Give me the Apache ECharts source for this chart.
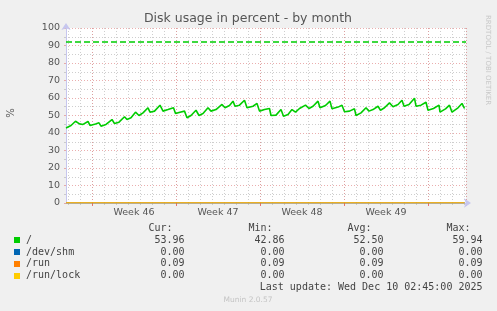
<!DOCTYPE html>
<html><head><meta charset="utf-8">
<script src="https://cdn.jsdelivr.net/npm/echarts@6/dist/echarts.min.js"></script>
<style>html,body{margin:0;padding:0;background:#f0f0f0;}#c{width:497px;height:311px;}</style>
</head><body><div id="c"></div>
<script>
// ---- data ----
const title = 'Disk usage in percent - by month';
const yUnit = '%';
const weekLabels = ['Week 46', 'Week 47', 'Week 48', 'Week 49'];
// hours since left edge of plot (2 hours per pixel, 800 hours shown)
const rootHours = [0,10,19,27,34,44,48,59,66,70,80,92,97,106,117,122,130,139,146,154,164,168,177,188,194,204,215,219,228,237,242,250,260,266,274,284,290,300,312,318,327,334,338,347,357,362,374,382,387,397,407,410,420,430,435,444,452,459,467,479,486,494,504,508,519,528,532,544,552,557,567,577,580,590,600,606,614,624,629,637,647,654,664,672,676,686,697,700,710,720,724,735,746,748,759,767,772,784,792,797];
const rootValues = [42.9,44.3,46.7,45.2,44.9,46.6,44.3,45.2,45.8,43.9,44.9,47.7,45.4,46.2,49.3,47.7,48.7,51.9,50.0,51.5,54.4,51.9,52.5,55.9,52.5,53.4,54.4,51.1,51.9,52.5,48.7,50.0,53.0,50.0,51.1,54.4,52.5,53.4,56.3,54.4,55.7,58.2,55.3,55.9,58.7,54.4,55.3,56.9,52.5,53.4,54.0,50.0,50.2,53.4,49.6,50.6,53.4,51.9,54.0,55.9,54.0,55.3,58.2,54.4,55.7,58.2,53.8,54.8,55.9,52.1,52.5,53.8,50.0,51.5,54.4,52.5,53.4,55.3,53.0,54.4,57.2,55.0,56.3,58.7,55.3,56.3,59.9,55.3,55.9,57.6,53.0,54.0,55.9,51.9,53.8,55.9,51.9,54.4,56.9,54.0];
const rootWarning = 92;
const seriesNames = ['/', '/dev/shm', '/run', '/run/lock'];
const seriesColors = ['#00cc00', '#0066b3', '#ff8000', '#ffcc00'];
const flatValues = {'/dev/shm': 0, '/run': 0.09, '/run/lock': 0};
const curVals = ['53.96', '0.00', '0.09', '0.00'];
const minVals = ['42.86', '0.00', '0.09', '0.00'];
const avgVals = ['52.50', '0.00', '0.09', '0.00'];
const maxVals = ['59.94', '0.00', '0.09', '0.00'];
const lastUpdate = 'Last update: Wed Dec 10 02:45:00 2025';
const footer = 'Munin 2.0.57';
const sideText = 'RRDTOOL / TOBI OETIKER';

// ---- layout ----
const PL = 66, PT = 28, PW = 400, PH = 175, HOURS = 800;
const pxPerHour = PW / HOURS;
const dayOffset = 4, weekOffset = 52, weekLabelOffset = 136;
const majorCol = 'rgba(225,140,140,0.7)';
const minorCol = 'rgba(190,190,190,0.75)';
const axisCol = '#c6c6ee';
const mono = '"DejaVu Sans Mono", monospace';
const sans = '"DejaVu Sans", sans-serif';

const rootData = rootHours.map((h, i) => [h, rootValues[i]]);

function hiddenY(gi) {
  return {gridIndex: gi, type: 'value', min: 0, max: 100, show: false};
}
const grids = [
  {left: PL, top: PT, width: PW, height: PH, show: true, backgroundColor: '#ffffff', borderWidth: 0, z: -5},
  {left: PL + dayOffset * pxPerHour, top: PT, width: PW - dayOffset * pxPerHour, height: PH},
  {left: PL + weekOffset * pxPerHour, top: PT, width: PW - weekOffset * pxPerHour, height: PH},
  {left: PL + weekLabelOffset * pxPerHour, top: PT, width: PW - weekLabelOffset * pxPerHour, height: PH}
];
const xAxes = [
  {gridIndex: 0, type: 'value', min: 0, max: HOURS, axisLabel: {show: false}, axisTick: {show: false}, splitLine: {show: false},
   axisLine: {show: true, lineStyle: {color: axisCol, width: 1}, symbol: ['none', 'arrow'], symbolSize: [7, 7], symbolOffset: [0, 5]}},
  {gridIndex: 1, type: 'value', min: 0, max: HOURS - dayOffset, interval: 24, axisLine: {show: false},
   axisLabel: {show: false}, axisTick: {show: true, length: 2, lineStyle: {color: minorCol}},
   splitLine: {show: true, lineStyle: {color: minorCol, type: [1, 2], width: 1}}},
  {gridIndex: 2, type: 'value', min: 0, max: HOURS - weekOffset, interval: 168, axisLine: {show: false},
   axisLabel: {show: false}, axisTick: {show: true, length: 3, lineStyle: {color: 'rgba(230,100,100,0.9)'}},
   splitLine: {show: true, lineStyle: {color: majorCol, type: [1, 2], width: 1}}},
  {gridIndex: 3, type: 'value', min: 0, max: HOURS - weekLabelOffset, interval: 168, axisLine: {show: false},
   axisTick: {show: false}, splitLine: {show: false},
   axisLabel: {show: true, showMinLabel: true, showMaxLabel: false, margin: 5, color: '#555', fontSize: 9.5, fontFamily: sans,
     formatter: v => weekLabels[Math.round(v / 168)] || ''}}
];
const yAxes = [
  {gridIndex: 0, type: 'value', min: 0, max: 100, interval: 10,
   axisLine: {show: true, lineStyle: {color: axisCol, width: 1}, symbol: ['none', 'arrow'], symbolSize: [7, 7], symbolOffset: [0, 5]},
   axisTick: {show: true, length: 2, lineStyle: {color: majorCol}},
   minorTick: {show: true, splitNumber: 2, length: 2, lineStyle: {color: minorCol}},
   axisLabel: {color: '#555', fontSize: 9.5, fontFamily: sans, margin: 6},
   splitLine: {show: true, lineStyle: {color: majorCol, type: [1, 2], width: 1}},
   minorSplitLine: {show: true, lineStyle: {color: minorCol, type: [1, 2], width: 1}}},
  hiddenY(1), hiddenY(2), hiddenY(3)
];

const series = [
  {name: '/', type: 'line', xAxisIndex: 0, yAxisIndex: 0, data: rootData, showSymbol: false, z: 5,
   lineStyle: {color: seriesColors[0], width: 1.6}, itemStyle: {color: seriesColors[0]},
   markLine: {silent: true, symbol: 'none', label: {show: false},
     lineStyle: {color: seriesColors[0], type: [6, 3], width: 1.5}, data: [{yAxis: rootWarning}]}, animation: false}
];
seriesNames.slice(1).forEach((n, i) => {
  const v = flatValues[n];
  series.push({name: n, type: 'line', xAxisIndex: 0, yAxisIndex: 0, showSymbol: false, z: 4,
    data: [[rootHours[0], v], [rootHours[rootHours.length - 1], v]],
    lineStyle: {color: seriesColors[i + 1], width: 1}, animation: false});
});

const graphics = [];
function txt(x, y, s, opt) {
  graphics.push({type: 'text', x: x, y: y, silent: true, rotation: opt.rot || 0,
    style: {text: s, fill: opt.color || '#444', font: opt.font, textAlign: opt.align || 'left', textVerticalAlign: 'middle'}});
}
txt(248, 19, title, {font: '12.5px ' + sans, align: 'center', color: '#555'});
txt(11, 113, yUnit, {font: '10px ' + sans, align: 'center', color: '#555', rot: Math.PI / 2});
txt(488, 15, sideText, {font: '7px ' + sans, align: 'left', color: '#c8c8c8', rot: -Math.PI / 2});
const rowY0 = 228.5, rowH = 11.8;
const colRight = [184.5, 284.5, 383.5, 482.5];
['Cur:', 'Min:', 'Avg:', 'Max:'].forEach((h, i) => txt(colRight[i] - 12, rowY0, h, {font: '10px ' + mono, align: 'right'}));
seriesNames.forEach((n, r) => {
  const y = rowY0 + rowH * (r + 1);
  graphics.push({type: 'rect', silent: true, shape: {x: 14, y: Math.round(y) - 3, width: 6, height: 6}, style: {fill: seriesColors[r]}});
  txt(26, y, n, {font: '10px ' + mono});
  [curVals, minVals, avgVals, maxVals].forEach((arr, c) => txt(colRight[c], y, arr[r], {font: '10px ' + mono, align: 'right'}));
});
txt(482.5, 287.5, lastUpdate, {font: '10px ' + mono, align: 'right'});
txt(248, 300.5, footer, {font: '7.5px ' + sans, align: 'center', color: '#c4c4c4'});

const chart = echarts.init(document.getElementById('c'), null, {renderer: 'canvas'});
chart.setOption({
  animation: false,
  backgroundColor: '#f0f0f0',
  grid: grids, xAxis: xAxes, yAxis: yAxes, series: series,
  graphic: graphics
});
</script></body></html>
